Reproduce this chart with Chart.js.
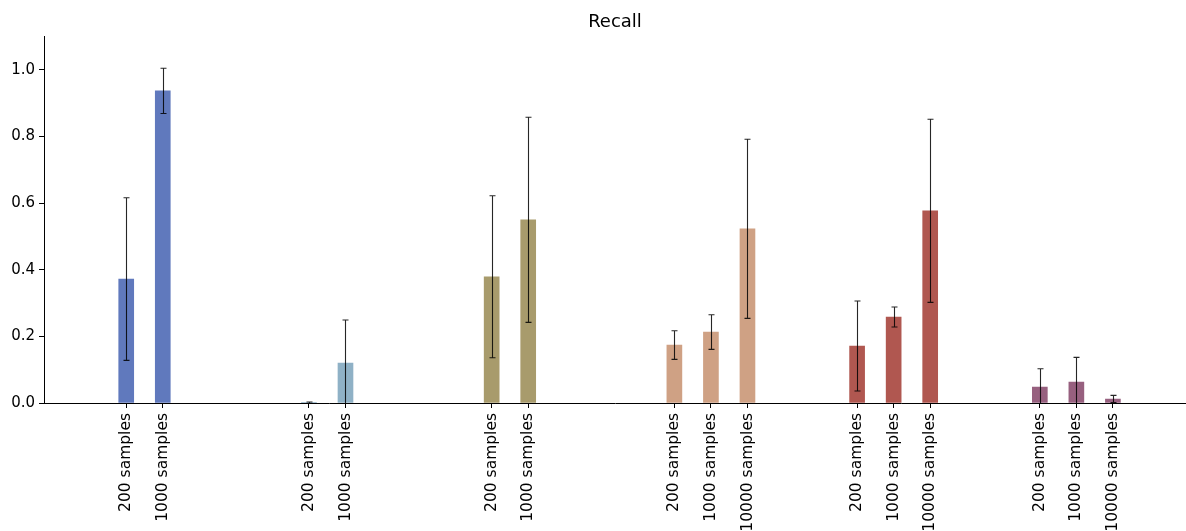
<!DOCTYPE html>
<html>
<head>
<meta charset="utf-8">
<script src="https://cdn.jsdelivr.net/npm/chart.js@4"></script>
<style>
  html, body { margin: 0; padding: 0; background: #fff; }
  #wrap { width: 1186px; height: 531px; }
</style>
</head>
<body>
<div id="wrap"><canvas id="recallChart"></canvas></div>
<script>
// Labels for each bar inside a group
const sampleSizes = ["200 samples", "1000 samples", "10000 samples"];

// Mean recall per group (one entry per sample size)
const recallMeans = [
  [0.372, 0.937],
  [0.001, 0.120],
  [0.379, 0.550],
  [0.174, 0.213, 0.523],
  [0.171, 0.258, 0.577],
  [0.048, 0.063, 0.012]
];

// Standard deviation of recall, same layout as the means
const recallErrors = [
  [0.244, 0.068],
  [0.002, 0.129],
  [0.243, 0.308],
  [0.043, 0.052, 0.269],
  [0.135, 0.030, 0.275],
  [0.055, 0.074, 0.011]
];

const yTicks = [0, 0.2, 0.4, 0.6, 0.8, 1.0];

const groupColors = ["#6079bd", "#8fb1c6", "#a89b6c", "#cfa184", "#b05750", "#97607f"];

// Each group takes 5 slots on the x axis, bars sit one slot apart
const points = [];
const colors = [];
const errors = [];
const tickLabels = {};
recallMeans.forEach((group, g) => {
  group.forEach((value, i) => {
    const slot = g * 5 + i;
    points.push({ x: slot, y: value });
    colors.push(groupColors[g]);
    errors.push(recallErrors[g][i]);
    tickLabels[slot] = sampleSizes[i];
  });
});

// Draw error bars with small caps on top of the bars
const errorBars = {
  id: "errorBars",
  afterDatasetsDraw(chart) {
    const ctx = chart.ctx;
    const yScale = chart.scales.y;
    const meta = chart.getDatasetMeta(0);
    ctx.save();
    ctx.strokeStyle = "rgba(0,0,0,0.85)";
    ctx.lineWidth = 1.1;
    meta.data.forEach((bar, idx) => {
      const v = points[idx].y;
      const e = errors[idx];
      const x = Math.round(bar.x) + 0.5;
      const top = yScale.getPixelForValue(v + e);
      const bottom = yScale.getPixelForValue(Math.max(v - e, 0));
      ctx.beginPath();
      ctx.moveTo(x, top);
      ctx.lineTo(x, bottom);
      ctx.moveTo(x - 3, top);
      ctx.lineTo(x + 3, top);
      if (v - e > 0) {
        ctx.moveTo(x - 3, bottom);
        ctx.lineTo(x + 3, bottom);
      }
      ctx.stroke();
    });
    ctx.restore();
  }
};

Chart.defaults.font.family = "'DejaVu Sans', sans-serif";
Chart.defaults.color = "#000";

new Chart(document.getElementById("recallChart"), {
  type: "bar",
  data: {
    datasets: [{
      data: points,
      backgroundColor: colors,
      barThickness: 15
    }]
  },
  options: {
    responsive: true,
    maintainAspectRatio: false,
    animation: false,
    layout: { padding: 0 },
    plugins: {
      legend: { display: false },
      tooltip: { enabled: false },
      title: {
        display: true,
        fullSize: false,
        text: "Recall",
        color: "#000",
        font: { size: 18, weight: "normal" },
        padding: { top: 12, bottom: 3 }
      }
    },
    scales: {
      x: {
        type: "linear",
        offset: false,
        min: -2.25,
        max: 29,
        grid: { offset: false, drawOnChartArea: false, drawTicks: true, tickLength: 5, color: "#000" },
        border: { display: true, color: "#000", width: 1 },
        afterBuildTicks(axis) {
          axis.ticks = Object.keys(tickLabels).map(v => ({ value: Number(v) }));
        },
        afterFit(axis) { axis.height = 128; },
        ticks: {
          autoSkip: false,
          minRotation: 90,
          maxRotation: 90,
          padding: 5,
          font: { size: 15.5 },
          callback: value => tickLabels[value] || ""
        }
      },
      y: {
        min: 0,
        max: 1.1,
        grid: { drawOnChartArea: false, drawTicks: true, tickLength: 5, color: "#000" },
        border: { display: true, color: "#000", width: 1 },
        afterBuildTicks(axis) {
          axis.ticks = yTicks.map(v => ({ value: v }));
        },
        afterFit(axis) { axis.width = 44; },
        ticks: {
          padding: 4,
          font: { size: 15 },
          callback: value => value.toFixed(1)
        }
      }
    }
  },
  plugins: [errorBars]
});
</script>
</body>
</html>
